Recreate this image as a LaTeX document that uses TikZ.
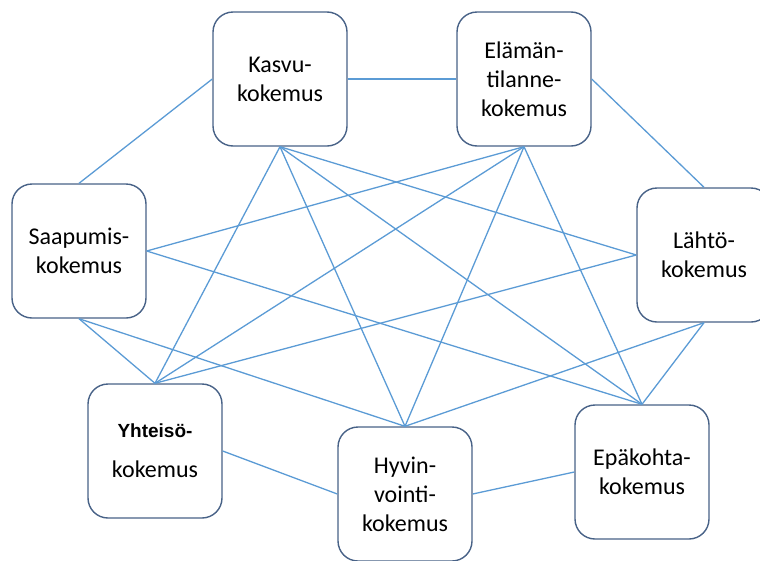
\documentclass[tikz,border=0pt]{standalone}
\usepackage{fontspec}
\setmainfont{Carlito}
\newfontfamily\arialfont{Liberation Sans}
\definecolor{linkblue}{RGB}{91,155,213}
\definecolor{boxedge}{RGB}{72,98,135}
\begin{document}
\begin{tikzpicture}[x=1pt,y=-1pt,
	every node/.style={font=\fontsize{24}{29}\selectfont},
	koko/.style={draw=boxedge,line width=1.4pt,rounded corners=20pt,fill=white,
		minimum width=134pt,minimum height=134pt,inner sep=0pt,align=center},
	link/.style={linkblue,line width=1.3pt}]
	
	\clip (0,0) rectangle (760,560);
	
	\node[koko](kasvu) at (280,79) {Kasvu-\\kokemus};
	\node[koko](elaman) at (524,79) {Elämän-\\tilanne-\\kokemus};
	\node[koko](saapumis) at (79,251) {Saapumis-\\kokemus};
	\node[koko](lahto) at (704,255) {Lähtö-\\kokemus};
	\node[koko](yhteiso) at (155,451) {{\arialfont\bfseries\fontsize{19}{22}\selectfont Yhteisö-}\\[11pt]kokemus};
	\node[koko](hyvin) at (405,494) {Hyvin-\\vointi-\\kokemus};
	\node[koko](epakohta) at (642,472) {Epäkohta-\\kokemus};
	
	\draw[link] (kasvu.east) -- (elaman.west);
	\draw[link] (saapumis.north) -- (kasvu.west);
	\draw[link] (elaman.east) -- (lahto.north);
	\draw[link] (yhteiso.east) -- (hyvin.west);
	\draw[link] (hyvin.east) -- (epakohta.west);
	
	\draw[link] (kasvu.south) -- (yhteiso.north);
	\draw[link] (kasvu.south) -- (hyvin.north);
	\draw[link] (kasvu.south) -- (epakohta.north);
	\draw[link] (kasvu.south) -- (lahto.west);
	
	\draw[link] (elaman.south) -- (saapumis.east);
	\draw[link] (elaman.south) -- (yhteiso.north);
	\draw[link] (elaman.south) -- (hyvin.north);
	\draw[link] (elaman.south) -- (epakohta.north);
	
	\draw[link] (saapumis.east) -- (epakohta.north);
	\draw[link] (lahto.west) -- (yhteiso.north);
	\draw[link] (saapumis.south) -- (yhteiso.north);
	\draw[link] (saapumis.south) -- (hyvin.north);
	\draw[link] (lahto.south) -- (epakohta.north);
	\draw[link] (lahto.south) -- (hyvin.north);
\end{tikzpicture}
\end{document}
